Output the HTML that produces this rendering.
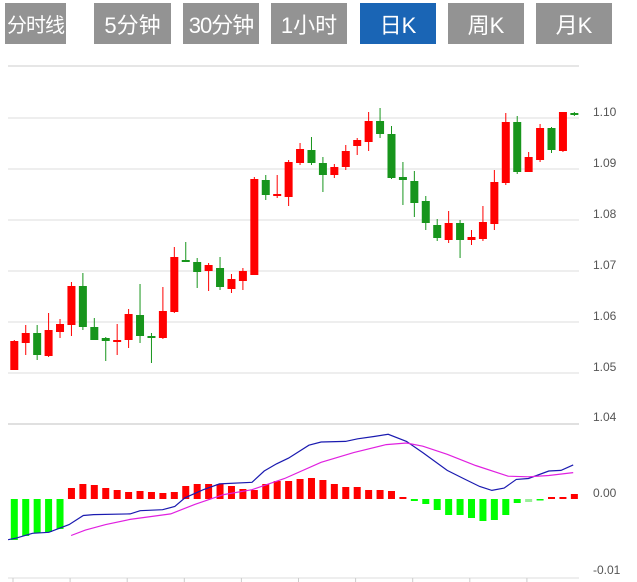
<!DOCTYPE html>
<html><head><meta charset="utf-8"><style>
body{margin:0;background:#fff;width:637px;height:582px;overflow:hidden;font-family:"Liberation Sans","Noto Sans CJK SC",sans-serif}
.b{position:absolute;top:3px;height:41px;background:#939393;color:#fff;font-size:22px;display:flex;align-items:center;justify-content:center;white-space:nowrap;overflow:hidden}
.b.on{background:#1a65b5}
svg{position:absolute;left:0;top:0}
</style></head><body>
<div class="b" style="left:5px;width:61px;font-size:20px;letter-spacing:-1px">分时线</div>
<div class="b" style="left:94px;width:77px">5分钟</div>
<div class="b" style="left:183px;width:76px;letter-spacing:-1px">30分钟</div>
<div class="b" style="left:271px;width:76px">1小时</div>
<div class="b on" style="left:360px;width:76px">日K</div>
<div class="b" style="left:448px;width:76px">周K</div>
<div class="b" style="left:536px;width:76px">月K</div>
<svg id="s" width="637" height="582" xmlns="http://www.w3.org/2000/svg" font-family="Liberation Sans, sans-serif" font-size="12" fill="#555"></svg>
<script>
var s=document.getElementById('s'),h='';
h+='<line x1="8" y1="66" x2="579" y2="66" stroke="#e6e6e6" stroke-width="2"/>';
var gy=[118,169,220,271,322,373],gl=['1.10','1.09','1.08','1.07','1.06','1.05'];
for(var i=0;i<6;i++){h+='<line x1="8" y1="'+gy[i]+'" x2="579" y2="'+gy[i]+'" stroke="#ddd"/>';h+='<text x="593" y="'+(gy[i]-2)+'">'+gl[i]+'</text>';}
h+='<line x1="8" y1="424" x2="579" y2="424" stroke="#e0e0e0" stroke-width="2"/>';
h+='<text x="593" y="421">1.04</text><text x="593" y="497">0.00</text><text x="593" y="574">-0.01</text>';
h+='<line x1="8" y1="578" x2="579" y2="578" stroke="#ddd"/>';
for(var i=0;i<10;i++){var x=13+57.1*i;h+='<line x1="'+x+'" y1="578" x2="'+x+'" y2="582" stroke="#ccc"/>';}
var c=[['r',341,370,340,370],['r',333,343,325,355],['g',333,355,325,360],['r',330,356,313,357],['r',324,332,319,338],
['r',286,325,282,336],['g',286,327,273,330],['g',327,340,318,340],['g',338,341,337,361],['r',340,342,324,355],
['r',314,340,309,348],['g',315,336,284,343],['g',336,338,333,363],['r',311,338,287,339],['r',257,312,247,313],
['g',260,262,242,262],['g',262,272,258,288],['r',265,271,263,291],['g',268,287,257,290],['r',279,289,274,293],
['r',271,281,268,290],['r',179,275,177,275],['g',180,195,175,200],['r',194,196,175,198],['r',162,197,160,206],
['r',149,163,143,165],['g',150,163,137,165],['g',163,175,157,192],['r',167,175,164,178],['r',151,167,145,170],
['r',140,146,138,155],['r',121,142,112,151],['g',121,134,108,138],['g',134,178,126,179],['g',177,180,162,205],
['g',181,203,171,217],['g',201,223,196,230],['g',225,238,219,241],['r',223,240,211,243],['g',223,240,220,258],
['r',237,240,230,245],['r',222,239,206,241],['r',182,224,170,230],['r',122,183,113,185],['g',122,172,116,174],
['r',157,172,152,172],['r',128,160,124,162],['g',128,150,127,153],['r',112,151,112,152],['g',113,115,112,116]];
for(var i=0;i<c.length;i++){var x=14.3+11.43*i,col=c[i][0]=='r'?'#f00':'#17951c';
h+='<line x1="'+x+'" y1="'+c[i][3]+'" x2="'+x+'" y2="'+c[i][4]+'" stroke="'+col+'"/>';
h+='<rect x="'+(x-4)+'" y="'+c[i][1]+'" width="8" height="'+Math.max(2,c[i][2]-c[i][1])+'" fill="'+col+'"/>';}
var Z=499;
var m=[540,536,533,532,529,488,484,485,488,490,492,491,492,493,492,486,484,484,484,486,489,490,484,481,481,479,478,480,484,487,487,490,490,491,497,
501,504,510,515,515,518,521,520,515,503,502,500,497,497,494];
for(var i=0;i<m.length;i++){var x=14.3+11.43*i,y=m[i];
var col=y<Z?'#f00':'#0f0';if(i==45)col='#9e9';
var t=Math.min(y,Z),hh=Math.max(1.5,Math.abs(y-Z));
h+='<rect x="'+(x-3.5)+'" y="'+t+'" width="7" height="'+hh+'" fill="'+col+'"/>';}
function pl(a,col){var p=[];for(var i=0;i<a.length;i+=2)p.push((a[i]/2.46).toFixed(1)+','+(422+a[i+1]/3.1).toFixed(1));return '<polyline points="'+p.join(' ')+'" fill="none" stroke="'+col+'" stroke-width="1.2"/>';}
h+=pl([20,365,40,360,80,345,120,342,170,318,205,290,230,287,320,285,345,275,400,272,430,262,455,235,500,210,540,192,620,187,650,152,680,130,710,112,760,72,790,62,850,60,880,52,920,45,955,38,1000,60,1040,95,1100,150,1140,175,1180,200,1210,212,1240,205,1270,178,1300,175,1350,152,1380,150,1410,133],'#1a1ab0');
h+=pl([175,352,210,335,260,318,320,302,420,285,480,255,550,225,620,210,700,175,790,125,870,95,950,70,1000,65,1040,75,1100,100,1170,135,1250,168,1300,170,1350,166,1410,157],'#e020e0');
s.innerHTML=h;
</script>
</body></html>
